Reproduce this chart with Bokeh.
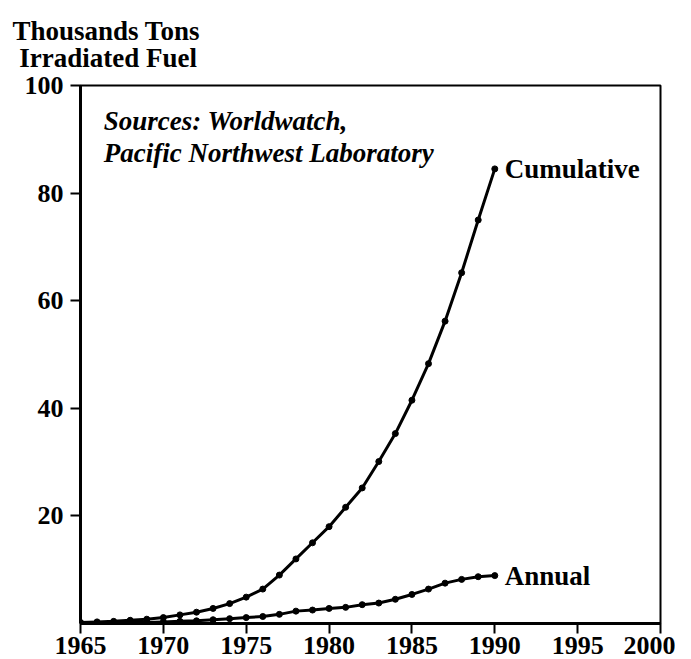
from bokeh.plotting import figure
from bokeh.models import Range1d, FixedTicker, Label, Title
from bokeh.core.properties import value
from bokeh.embed import file_html
from bokeh.resources import INLINE

years = list(range(1965, 1991))
cumulative = [0.2, 0.3, 0.4, 0.6, 0.8, 1.1, 1.6, 2.1, 2.8, 3.7, 4.9, 6.4, 9.0, 12.0,
              15.0, 18.0, 21.6, 25.2, 30.1, 35.3, 41.5, 48.3, 56.2, 65.2, 75.0, 84.5]
annual = [0.1, 0.1, 0.1, 0.2, 0.2, 0.3, 0.4, 0.5, 0.7, 0.9, 1.1, 1.3, 1.7, 2.3,
          2.5, 2.8, 3.0, 3.5, 3.8, 4.5, 5.4, 6.4, 7.5, 8.2, 8.7, 8.9]
x_ticks = [1965, 1970, 1975, 1980, 1985, 1990, 1995, 2000]
y_ticks = [20, 40, 60, 80, 100]
series_names = ["Cumulative", "Annual"]
title_lines = ["Thousands Tons", "\u00a0Irradiated Fuel"]
source_lines = ["Sources:  Worldwatch,", "Pacific Northwest Laboratory"]

FONT = "Liberation Serif"

p = figure(width=675, height=659, output_backend="svg", toolbar_location=None,
           x_range=Range1d(1965, 2000), y_range=Range1d(0, 100),
           title_location=None,
           min_border_left=80, min_border_right=15, min_border_top=85, min_border_bottom=36)
p.xgrid.grid_line_color = None
p.ygrid.grid_line_color = None
p.outline_line_color = "black"
p.outline_line_width = 2
p.outline_line_alpha = 1
p.background_fill_color = "white"
p.border_fill_color = "white"

for ax in (p.xaxis, p.yaxis):
    ax.axis_line_width = 3
    ax.axis_line_color = "black"
    ax.major_tick_line_width = 2
    ax.major_tick_line_color = "black"
    ax.major_tick_in = 0
    ax.major_tick_out = 10
    ax.minor_tick_in = 0
    ax.minor_tick_out = 0
    ax.major_label_text_font = FONT
    ax.major_label_text_font_size = "26px"
    ax.major_label_text_font_style = "bold"
    ax.major_label_text_color = "black"

p.xaxis.ticker = FixedTicker(ticks=x_ticks)
p.yaxis.ticker = FixedTicker(ticks=y_ticks)
p.xaxis.major_label_standoff = 3
p.yaxis.major_label_standoff = 7

p.line(years, cumulative, line_width=3, line_color="black")
p.scatter(years, cumulative, size=6, color="black")
p.line(years, annual, line_width=3, line_color="black")
p.scatter(years, annual, size=6, color="black")

p.text(x=[years[-1], years[-1]], y=[cumulative[-1], annual[-1]], text=series_names,
       x_offset=10, text_baseline="middle", text_align="left",
       text_font=value(FONT), text_font_size="27px", text_font_style="bold",
       text_color="black")

# two-line heading above the frame, shifted to the top-left corner
p.add_layout(Title(text="\n".join(title_lines), align="left", offset=-68, standoff=26,
                   text_font=FONT, text_font_size="27px", text_font_style="bold",
                   text_line_height=0.9, text_color="black"), "above")

for i, t in enumerate(source_lines):
    p.add_layout(Label(x=1966.4, y=93.4 - 6.0 * i, text=t, text_align="left",
                       text_baseline="middle", text_font=FONT, text_font_size="27px",
                       text_font_style="bold italic", text_color="black"))

open("out.html", "w").write(file_html(p, INLINE))
